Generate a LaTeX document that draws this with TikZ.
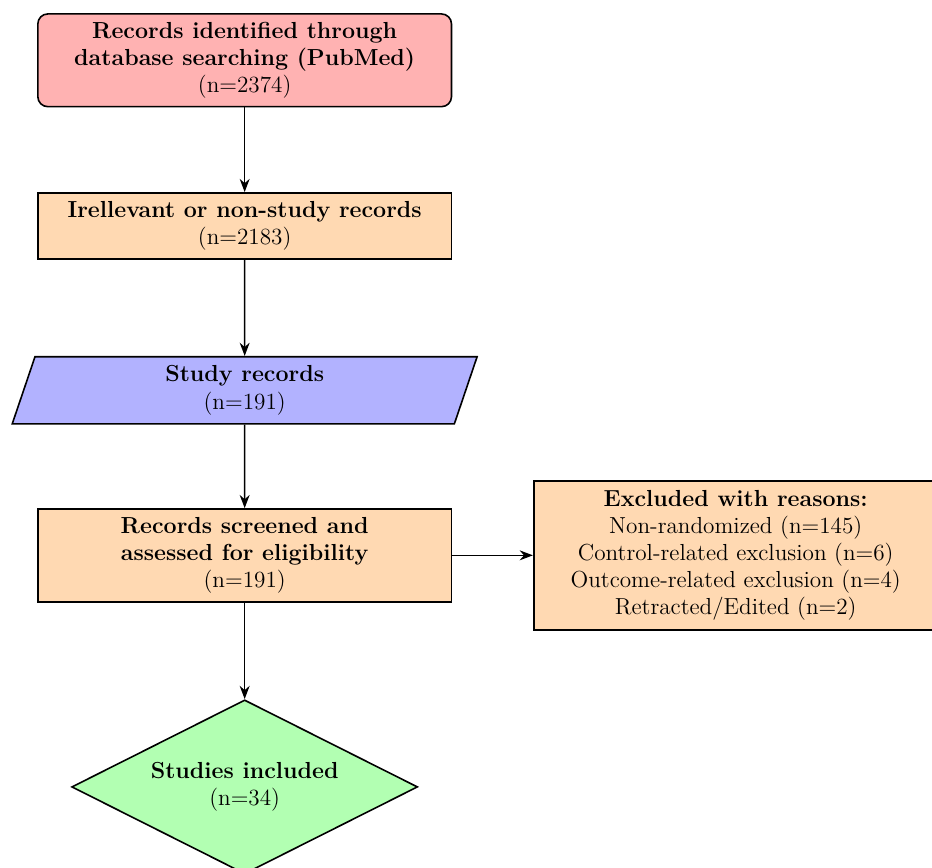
\documentclass[tikz,border=0pt]{standalone}
\usepackage{tikz}
\usetikzlibrary{shapes.geometric, positioning, arrows.meta}

\begin{document}
\begin{tikzpicture}[
  >=Stealth,
  every node/.style={font=\fontsize{11.6}{13.6}\selectfont},
  procbox/.style={draw, thick, fill=orange!30, align=center,
    minimum width=7.27cm, minimum height=1.16cm},
  startbox/.style={draw, thick, fill=red!30, rounded corners=5pt,
    align=center, minimum width=7.27cm, minimum height=1.63cm},
  iobox/.style={draw, thick, fill=blue!30, trapezium,
    trapezium left angle=70, trapezium right angle=110,
    trapezium stretches body=true, align=center,
    minimum width=8.17cm, minimum height=1.18cm},
  endbox/.style={draw, thick, fill=green!30, diamond, aspect=2,
    align=center, inner sep=1pt,
    minimum width=6.08cm, minimum height=3.06cm},
  arr/.style={->, thick},
]
\useasboundingbox (0,0) rectangle (16.38,-15.25);

%% ROW 0 -- Identification
\node[startbox] (ident) at (4.30,-1.06)
  {\textbf{Records identified through}\\
   \textbf{database searching (PubMed)}\\(n=2374)};

%% ROW 1 -- Irrelevant records
\node[procbox] (irrel) at (4.30,-3.97)
  {\textbf{Irellevant or non-study records}\\(n=2183)};
\draw[arr] (ident.south) -- (irrel.north);

%% ROW 2 -- Study records
\node[iobox] (study) at (4.30,-6.86)
  {\textbf{Study records}\\(n=191)};
\draw[arr] (irrel.south) -- (study.north);

%% ROW 3 -- Screening
\node[procbox, minimum height=1.63cm] (screen) at (4.30,-9.76)
  {\textbf{Records screened and}\\
   \textbf{assessed for eligibility}\\(n=191)};
\draw[arr] (study.south) -- (screen.north);

%% Side branch -- exclusions
\node[procbox, minimum width=7.10cm, minimum height=2.62cm] (excl) at (12.93,-9.76)
  {\textbf{Excluded with reasons:}\\
   Non-randomized (n=145)\\
   Control-related exclusion (n=6)\\
   Outcome-related exclusion (n=4)\\
   Retracted/Edited (n=2)};
\draw[arr] (screen.east) -- (excl.west);

%% ROW 4 -- Included
\node[endbox] (incl) at (4.30,-13.83)
  {\textbf{Studies included}\\(n=34)};
\draw[arr] (screen.south) -- (incl.north);

\end{tikzpicture}
\end{document}
